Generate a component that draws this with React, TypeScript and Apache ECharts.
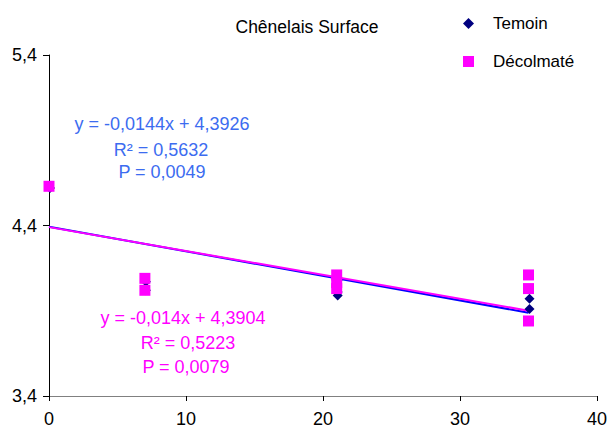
import React, { useEffect, useRef } from "react";
import * as echarts from "echarts";

const title = "Chênelais Surface";
const seriesNames = ["Temoin", "Décolmaté"];
const yTicks = [3.4, 4.4, 5.4];

const temoinPoints: [number, number][] = [
  [0, 4.62], [7, 4.07], [7, 4.02], [21, 4.08], [21, 4.01], [21, 3.99], [35, 3.97], [35, 3.91],
];
const decolmatePoints: [number, number][] = [
  [0, 4.63], [7, 4.09], [7, 4.02], [21, 4.11], [21, 4.065], [21, 4.03], [35, 4.11], [35, 4.03], [35, 3.84],
];
const temoinTrend: [number, number][] = [[0, 4.3926], [35, 3.8886]];
const decolmateTrend: [number, number][] = [[0, 4.3904], [35, 3.9004]];

const temoinLabel = ["y = -0,0144x + 4,3926", "R² = 0,5632", "P = 0,0049"];
const decolmateLabel = ["y = -0,014x + 4,3904", "R² = 0,5223", "P = 0,0079"];

const FONT = "'Liberation Sans', Arial, sans-serif";

export default function App() {
  const ref = useRef<HTMLDivElement>(null);
  useEffect(() => {
    if (!ref.current) return;
    const chart = echarts.init(ref.current, undefined, { renderer: "svg" });
    const fmt = (v: number) => String(Math.round(v * 10) / 10).replace(".", ",");
    const textEl = (lines: string[], cxs: number[], ys: number[], color: string) =>
      lines.map((t, i) => ({
        type: "text",
        x: cxs[i],
        y: ys[i],
        style: { text: t, fill: color, font: `18px ${FONT}`, textAlign: "center", textVerticalAlign: "middle" },
        z: 10,
      }));
    chart.setOption({
      animation: false,
      backgroundColor: "#ffffff",
      textStyle: { fontFamily: FONT },
      legend: {
        data: [
          { name: seriesNames[0], icon: "diamond" },
          { name: seriesNames[1], icon: "rect" },
        ],
        orient: "vertical",
        left: 458,
        top: 10,
        itemWidth: 11,
        itemHeight: 11,
        itemGap: 21,
        textStyle: { fontSize: 17, color: "#000", fontFamily: FONT, padding: [0, 0, 0, 14] },
      },
      grid: { left: 49, right: 10, top: 55, bottom: 32, containLabel: false },
      xAxis: {
        type: "value",
        min: 0,
        max: 40,
        interval: 10,
        axisLine: { show: true, lineStyle: { color: "#808080", width: 1 } },
        axisTick: { show: true, length: 5, lineStyle: { color: "#000" } },
        axisLabel: { fontSize: 18, color: "#000", margin: 14, fontFamily: FONT },
        splitLine: { show: false },
      },
      yAxis: {
        type: "value",
        min: 3.4,
        max: 5.4,
        axisLine: { show: true, onZero: false, lineStyle: { color: "#000", width: 1 } },
        axisTick: { show: true, length: 6, customValues: yTicks, lineStyle: { color: "#000" } },
        axisLabel: { fontSize: 18, color: "#000", margin: 12, customValues: yTicks, formatter: fmt, fontFamily: FONT },
        splitLine: { show: false },
      },
      series: [
        {
          name: "trendT",
          type: "line",
          data: temoinTrend,
          symbol: "none",
          lineStyle: { color: "#0000FF", width: 2 },
          z: 2,
        },
        {
          name: "trendD",
          type: "line",
          data: decolmateTrend,
          symbol: "none",
          lineStyle: { color: "#FF00FF", width: 2 },
          z: 3,
        },
        {
          name: seriesNames[0],
          type: "scatter",
          data: temoinPoints,
          symbol: "diamond",
          symbolSize: 10,
          symbolOffset: [1, 0],
          itemStyle: { color: "#000080", opacity: 1 },
          z: 4,
        },
        {
          name: seriesNames[1],
          type: "scatter",
          data: decolmatePoints,
          symbol: "rect",
          symbolSize: 11,
          itemStyle: { color: "#FF00FF", opacity: 1 },
          z: 5,
        },
      ],
      graphic: [
        {
          type: "text",
          x: 307,
          y: 27,
          style: { text: title, fill: "#000", font: `17.5px ${FONT}`, textAlign: "center", textVerticalAlign: "middle" },
        },
        ...textEl(temoinLabel, [162, 161, 162], [124, 150, 172], "#3C6CF0"),
        ...textEl(decolmateLabel, [183, 188, 186], [318, 343, 367], "#FF00FF"),
      ],
    });
    return () => chart.dispose();
  }, []);
  return <div ref={ref} style={{ position: "absolute", left: 0, top: 0, width: 610, height: 428 }} />;
}
